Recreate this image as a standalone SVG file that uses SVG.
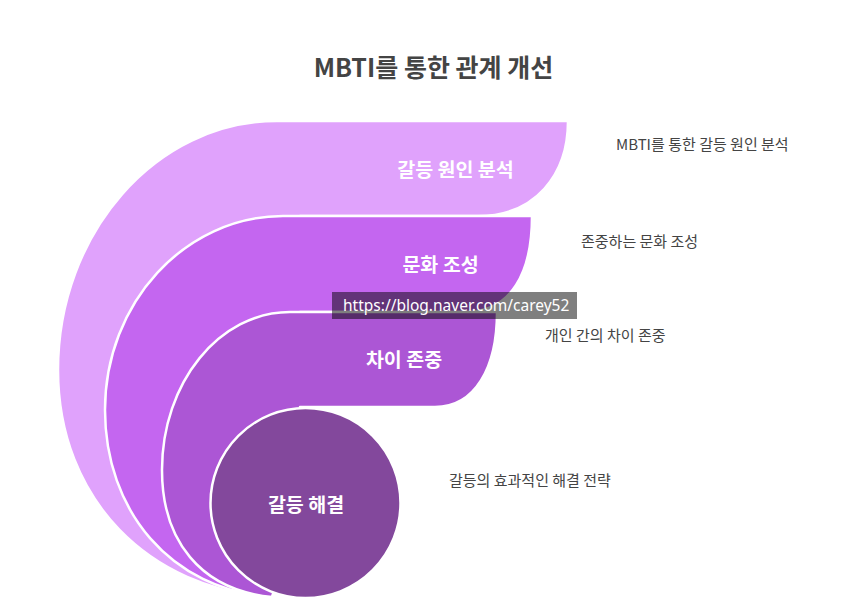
<svg xmlns="http://www.w3.org/2000/svg" width="854" height="611" viewBox="0 0 854 611">
<style>
text{font-family:'Noto Sans CJK KR','Noto Sans',sans-serif;dominant-baseline:central}
.title{font-size:25px;font-weight:700;fill:#444444;text-anchor:middle}
.lbl{font-size:19.5px;font-weight:700;fill:#ffffff;text-anchor:middle}
.desc{font-size:15px;fill:#444444}
.layer{stroke:#ffffff;stroke-width:2.5;stroke-linejoin:round}
.wm{font-family:'Noto Sans','Liberation Sans',sans-serif;font-size:15.5px;fill:#ffffff}
</style>
<rect width="854" height="611" fill="#ffffff"/>
<text class="title" x="433.5" y="66">MBTI를 통한 관계 개선</text>
<g id="layer1">
<path class="layer" fill="#E0A2FC" d="M 272 597 C 150 590, 58 500, 58 370 C 58 233, 156 121, 277 121 L 568 121 C 568 175, 535 216, 478 216 L 300 216 L 300 500 Z"/>
<text class="lbl" x="455.5" y="168">갈등 원인 분석</text>
</g>
<g id="layer2">
<path class="layer" fill="#C466F0" d="M 272 597 C 170 590, 105 510, 105 410 C 105 303, 185 216, 283 216 L 532 216 C 532 272, 512 312, 465 312 L 300 312 L 300 500 Z"/>
<text class="lbl" x="440.5" y="263">문화 조성</text>
</g>
<g id="layer3">
<path class="layer" fill="#AC56D5" d="M 272 597 C 200 590, 162 540, 162 470 C 162 383, 219 312, 290 312 L 497 312 C 497 368, 475 407, 435 407 L 300 407 L 300 500 Z"/>
<text class="lbl" x="404" y="358">차이 존중</text>
</g>
<g id="core">
<circle class="layer" cx="305.5" cy="503" r="95" fill="#83489C"/>
<text class="lbl" x="306" y="503">갈등 해결</text>
</g>
<g id="connectors"></g>
<g id="descriptions">
<text class="desc" x="616" y="143">MBTI를 통한 갈등 원인 분석</text>
<text class="desc" x="581" y="240">존중하는 문화 조성</text>
<text class="desc" x="545" y="334">개인 간의 차이 존중</text>
<text class="desc" x="449" y="479">갈등의 효과적인 해결 전략</text>
</g>
<g id="watermark">
<rect x="332" y="292" width="245" height="27" fill="#000000" fill-opacity="0.5"/>
<text class="wm" x="343" y="305">https://blog.naver.com/carey52</text>
</g>
</svg>
